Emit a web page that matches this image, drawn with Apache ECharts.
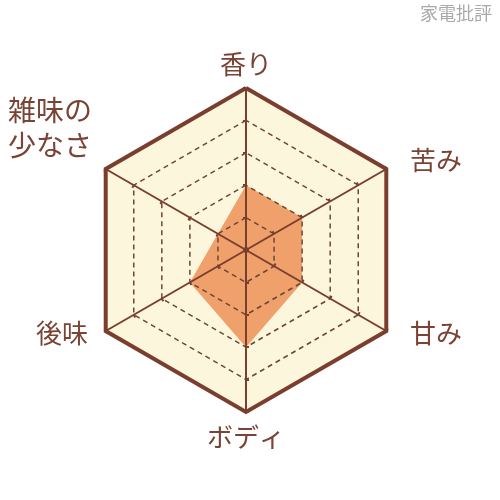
<!DOCTYPE html>
<html>
<head>
<meta charset="utf-8">
<script src="https://cdn.jsdelivr.net/npm/echarts@6/dist/echarts.min.js"></script>
<style>
  html, body { margin: 0; padding: 0; background: #fff; }
  #chart { width: 500px; height: 500px; }
</style>
</head>
<body>
<div id="chart"></div>
<script>
// 指標（上から反時計回り）
var indicatorNames = ['香り', '雑味の\n少なさ', '後味', 'ボディ', '甘み', '苦み'];
var scores = [2, 1, 2, 3, 2, 2];
var maxScore = 5;
var watermark = '家電批評';

// ラベル位置
var labelLayout = [
    { x: 246, y: 64, align: 'center', size: 26 },
    { x: 8, y: 128, align: 'left', size: 28 },
    { x: 62, y: 333, align: 'center', size: 26 },
    { x: 246, y: 437, align: 'center', size: 26 },
    { x: 436, y: 333, align: 'center', size: 26 },
    { x: 436, y: 160, align: 'center', size: 26 }
];

var brown = '#7a3e2f';
var textColor = '#7a4334';
var fontFamily = '"Noto Sans CJK JP", "Noto Sans", sans-serif';

var myChart = echarts.init(document.getElementById('chart'));

var indicators = indicatorNames.map(function(n) {
    return { name: n, max: maxScore };
});

function baseRadar(extra) {
    var r = {
        center: [246, 250],
        radius: 162,
        startAngle: 90,
        shape: 'polygon',
        splitNumber: 5,
        indicator: indicators,
        axisName: { show: false },
        axisLine: { show: false },
        splitLine: { show: false },
        splitArea: { show: false }
    };
    for (var k in extra) r[k] = extra[k];
    return r;
}

var graphics = indicatorNames.map(function(n, i) {
    var l = labelLayout[i];
    return {
        type: 'text',
        x: l.x,
        y: l.y,
        style: {
            text: n,
            fill: textColor,
            fontSize: l.size,
            lineHeight: 35,
            fontFamily: fontFamily,
            textAlign: l.align,
            textVerticalAlign: 'middle'
        }
    };
});
graphics.push({
    type: 'text',
    right: 8,
    top: 4,
    style: {
        text: watermark,
        fill: '#a9a9a9',
        fontSize: 18,
        fontFamily: fontFamily
    }
});

var option = {
    backgroundColor: '#ffffff',
    animation: false,
    radar: [
        // 背景
        baseRadar({
            z: 0,
            splitArea: { show: true, areaStyle: { color: ['#fcf6dc'] } }
        }),
        // 点線と軸
        baseRadar({
            z: 3,
            axisLine: { show: true, lineStyle: { color: brown, width: 2 } },
            axisTick: { show: true, length: 3, lineStyle: { color: brown, width: 2 } },
            splitLine: { show: true, lineStyle: { color: '#6b4637', width: 1.5, type: [5, 4] } }
        }),
        // 外枠
        baseRadar({
            z: 4,
            splitNumber: 1,
            splitLine: { show: true, lineStyle: { color: brown, width: 4, join: 'miter' } }
        })
    ],
    graphic: graphics,
    series: [{
        type: 'radar',
        radarIndex: 0,
        z: 2,
        symbol: 'none',
        lineStyle: { width: 0 },
        areaStyle: { color: '#f0a06b', opacity: 1 },
        data: [{ value: scores, name: 'スコア' }]
    }]
};

myChart.setOption(option);
</script>
</body>
</html>
